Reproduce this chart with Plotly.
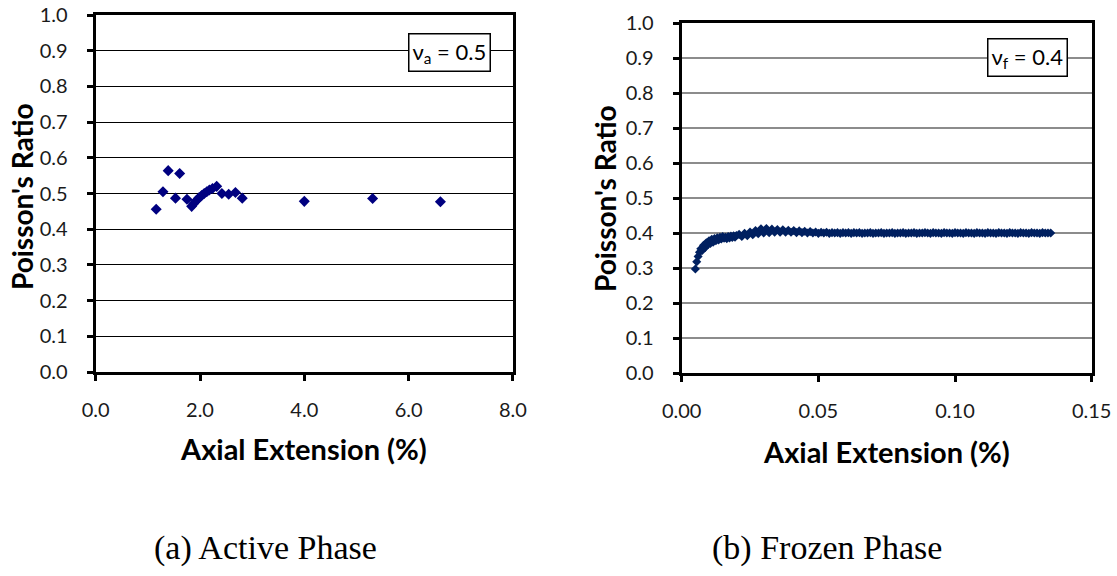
import plotly.graph_objects as go

# ---- data: (a) Active phase ----
active_ext = [1.16, 1.29, 1.39, 1.53, 1.61, 1.75, 1.84, 1.88, 1.93, 1.98, 2.03, 2.08,
              2.13, 2.18, 2.24, 2.32, 2.42, 2.55, 2.68, 2.81, 4.00, 5.31, 6.61]
active_nu = [0.456, 0.505, 0.564, 0.487, 0.556, 0.484, 0.464, 0.472, 0.480, 0.488, 0.494, 0.500,
             0.505, 0.510, 0.514, 0.520, 0.500, 0.498, 0.503, 0.487, 0.478, 0.486, 0.477]

# ---- data: (b) Frozen phase ----
frozen_ext = [0.0050, 0.0055, 0.0060, 0.0065, 0.0070, 0.0075, 0.0080, 0.0085, 0.0090, 0.0095,
              0.0100, 0.0105, 0.0110, 0.0115, 0.0120, 0.0125, 0.0130, 0.0135, 0.0140, 0.0145,
              0.0150, 0.0155, 0.0160, 0.0165, 0.0170, 0.0175, 0.0180, 0.0185, 0.0190, 0.0195,
              0.0200, 0.021, 0.022, 0.023, 0.024, 0.025, 0.026, 0.027, 0.028, 0.029,
              0.030, 0.031, 0.032, 0.033, 0.034, 0.035, 0.036, 0.037, 0.038, 0.039,
              0.040, 0.041, 0.042, 0.043, 0.044, 0.045, 0.046, 0.047, 0.048, 0.049,
              0.050, 0.051, 0.052, 0.053, 0.054, 0.055, 0.056, 0.057, 0.058, 0.059,
              0.060, 0.061, 0.062, 0.063, 0.064, 0.065, 0.066, 0.067, 0.068, 0.069,
              0.070, 0.071, 0.072, 0.073, 0.074, 0.075, 0.076, 0.077, 0.078, 0.079,
              0.080, 0.081, 0.082, 0.083, 0.084, 0.085, 0.086, 0.087, 0.088, 0.089,
              0.090, 0.091, 0.092, 0.093, 0.094, 0.095, 0.096, 0.097, 0.098, 0.099,
              0.100, 0.101, 0.102, 0.103, 0.104, 0.105, 0.106, 0.107, 0.108, 0.109,
              0.110, 0.111, 0.112, 0.113, 0.114, 0.115, 0.116, 0.117, 0.118, 0.119,
              0.120, 0.121, 0.122, 0.123, 0.124, 0.125, 0.126, 0.127, 0.128, 0.129,
              0.130, 0.131, 0.132, 0.133, 0.134, 0.135]
frozen_nu = [0.297, 0.318, 0.333, 0.345, 0.355, 0.350, 0.365, 0.358, 0.372, 0.366,
             0.378, 0.370, 0.382, 0.374, 0.384, 0.378, 0.386, 0.380, 0.388, 0.383,
             0.390, 0.385, 0.388, 0.384, 0.390, 0.386, 0.391, 0.387, 0.392, 0.388,
             0.393, 0.396, 0.390, 0.399, 0.392, 0.403, 0.395, 0.407, 0.398, 0.412,
             0.400, 0.413, 0.401, 0.411, 0.402, 0.410, 0.402, 0.409, 0.402, 0.408,
             0.402, 0.407, 0.401, 0.406, 0.401, 0.405, 0.400, 0.404, 0.400, 0.403,
             0.399, 0.402, 0.400, 0.402, 0.399, 0.401, 0.400, 0.401, 0.399, 0.401,
             0.400, 0.401, 0.399, 0.401, 0.400, 0.401, 0.399, 0.400, 0.400, 0.401,
             0.399, 0.400, 0.400, 0.401, 0.399, 0.400, 0.400, 0.401, 0.399, 0.400,
             0.400, 0.401, 0.399, 0.400, 0.400, 0.401, 0.399, 0.400, 0.400, 0.401,
             0.400, 0.399, 0.401, 0.400, 0.400, 0.399, 0.401, 0.400, 0.400, 0.399,
             0.401, 0.400, 0.400, 0.399, 0.401, 0.400, 0.400, 0.399, 0.401, 0.400,
             0.400, 0.399, 0.401, 0.400, 0.400, 0.399, 0.401, 0.400, 0.400, 0.399,
             0.401, 0.400, 0.400, 0.399, 0.401, 0.400, 0.400, 0.399, 0.401, 0.400,
             0.400, 0.399, 0.401, 0.400, 0.400, 0.400]

y_ticks = [0.0, 0.1, 0.2, 0.3, 0.4, 0.5, 0.6, 0.7, 0.8, 0.9, 1.0]
active_x_ticks = [0.0, 2.0, 4.0, 6.0, 8.0]
frozen_x_ticks = [0.00, 0.05, 0.10, 0.15]

W, H = 1117, 576
SANS = "Lato, Carlito, Calibri, sans-serif"
SERIF = "Liberation Serif, serif"

fig = go.Figure()
fig.add_trace(go.Scatter(x=active_ext, y=active_nu, mode="markers", xaxis="x", yaxis="y",
                         marker=dict(symbol="diamond", size=8.5, color="#000080",
                                     line=dict(width=0)),
                         showlegend=False))
fig.add_trace(go.Scatter(x=frozen_ext, y=frozen_nu, mode="markers", xaxis="x2", yaxis="y2",
                         marker=dict(symbol="diamond", size=7, color="#002060",
                                     line=dict(width=0)),
                         showlegend=False))

def px_x(p):
    return p / W

def px_y(p):
    return 1 - p / H

common_axis = dict(showline=True, mirror=True, linecolor="black", linewidth=3,
                   ticks="outside", ticklen=6, tickwidth=3, tickcolor="black",
                   zeroline=False, automargin=False,
                   tickfont=dict(family=SANS, size=20, color="#1a1a1a"))

fig.update_layout(
    width=W, height=H,
    margin=dict(l=0, r=0, t=0, b=0),
    paper_bgcolor="white", plot_bgcolor="white",
    xaxis=dict(domain=[px_x(95.7), px_x(512.9)], range=[0, 8], tickvals=active_x_ticks,
               tickformat=".1f", showgrid=False, anchor="y", ticklabelstandoff=12,
               **common_axis),
    yaxis=dict(domain=[px_y(372), px_y(15)], range=[0, 1], tickvals=y_ticks,
               tickformat=".1f", showgrid=True, gridcolor="black", gridwidth=1,
               anchor="x", ticklabelstandoff=15, **common_axis),
    xaxis2=dict(domain=[px_x(681.7), px_x(1091.7)], range=[0, 0.15], tickvals=frozen_x_ticks,
                tickformat=".2f", showgrid=False, anchor="y2", ticklabelstandoff=12,
                **common_axis),
    yaxis2=dict(domain=[px_y(373), px_y(23)], range=[0, 1], tickvals=y_ticks,
                tickformat=".1f", showgrid=True, gridcolor="#8c8c8c", gridwidth=1.5,
                anchor="x2", ticklabelstandoff=15, **common_axis),
)

title_font = dict(family=SANS, size=28, color="black")
xtitle_font = dict(family=SANS, size=29, color="black")
anns = [
    dict(text="<b>Poisson's Ratio</b>", x=px_x(22), y=px_y(197), textangle=-90, font=title_font),
    dict(text="<b>Poisson's Ratio</b>", x=px_x(605), y=px_y(199), textangle=-90, font=title_font),
    dict(text="<b>Axial Extension (%)</b>", x=px_x(304), y=px_y(448), font=xtitle_font),
    dict(text="<b>Axial Extension (%)</b>", x=px_x(886), y=px_y(451), font=xtitle_font),
    dict(text="ν<sub>a</sub> = 0.5", x=px_x(449), y=px_y(53), font=dict(family=SANS, size=22, color="black"),
         bgcolor="white", bordercolor="black", borderwidth=1.5, borderpad=3),
    dict(text="ν<sub>f</sub> = 0.4", x=px_x(1027), y=px_y(57), font=dict(family=SANS, size=22, color="black"),
         bgcolor="white", bordercolor="black", borderwidth=1.5, borderpad=3),
    dict(text="(a) Active Phase", x=px_x(265), y=px_y(548), font=dict(family=SERIF, size=34, color="black")),
    dict(text="(b) Frozen Phase", x=px_x(827), y=px_y(548), font=dict(family=SERIF, size=34, color="black")),
]
for a in anns:
    a.update(xref="paper", yref="paper", showarrow=False, xanchor="center", yanchor="middle")
    fig.add_annotation(**a)

fig.write_html("out.html")
